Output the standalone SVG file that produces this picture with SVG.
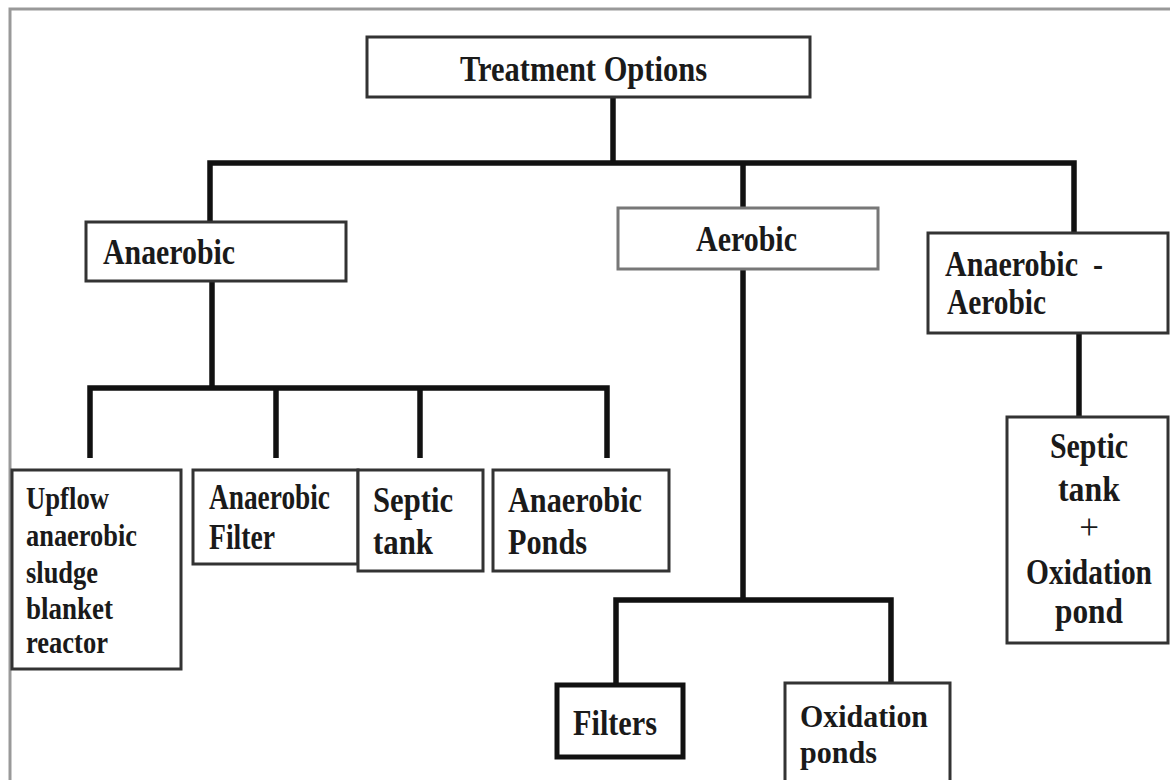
<svg xmlns="http://www.w3.org/2000/svg" width="1170" height="780" viewBox="0 0 1170 780">
<style>
.box{fill:#fff;stroke:#333;stroke-width:3}
.lt{stroke:#777}
.thick{stroke:#111;stroke-width:5}
.con{fill:none;stroke:#111;stroke-width:5.5;stroke-linejoin:miter;stroke-linecap:butt}
text{font-family:"Liberation Serif","Times New Roman",serif;font-weight:bold;fill:#1a1a1a}
.t1{font-size:35px}
.t2{font-size:31px}
.t3{font-size:32px}
</style>
<rect x="0" y="0" width="1170" height="780" fill="#fff"/>
<rect x="10" y="9" width="1178" height="800" fill="none" stroke="#999" stroke-width="3"/>
<g id="connectors">
<path class="con" d="M613 97 V163"/>
<path class="con" d="M210 222 V163 H1074 V233"/>
<path class="con" d="M743 163 V208"/>
<path class="con" d="M212 281 V388"/>
<path class="con" d="M90 458 V388 H607 V458"/>
<path class="con" d="M276 388 V458"/>
<path class="con" d="M420 388 V458"/>
<path class="con" d="M743 269 V600"/>
<path class="con" d="M616 685 V600 H891 V683"/>
<path class="con" d="M1079 333 V417"/>
</g>
<g id="treatment-options">
<rect class="box" x="367" y="37" width="443" height="60"/>
<text class="t1" x="460" y="81" textLength="247" lengthAdjust="spacingAndGlyphs">Treatment Options</text>
</g>
<g id="anaerobic">
<rect class="box" x="86" y="222" width="260" height="59"/>
<text class="t1" x="103" y="264" textLength="132" lengthAdjust="spacingAndGlyphs">Anaerobic</text>
</g>
<g id="aerobic">
<rect class="box lt" x="618" y="208" width="260" height="61"/>
<text class="t1" x="696" y="251" textLength="101" lengthAdjust="spacingAndGlyphs">Aerobic</text>
</g>
<g id="anaerobic-aerobic">
<rect class="box" x="928" y="233" width="240" height="100"/>
<text class="t1" x="945" y="276" xml:space="preserve" style="white-space:pre" textLength="158" lengthAdjust="spacingAndGlyphs">Anaerobic  -</text>
<text class="t1" x="947" y="314" textLength="99" lengthAdjust="spacingAndGlyphs">Aerobic</text>
</g>
<g id="uasb">
<rect class="box" x="12" y="470" width="169" height="199"/>
<text class="t2" x="26" y="509" textLength="83" lengthAdjust="spacingAndGlyphs">Upflow</text>
<text class="t2" x="26" y="546" textLength="111" lengthAdjust="spacingAndGlyphs">anaerobic</text>
<text class="t2" x="26" y="583" textLength="72" lengthAdjust="spacingAndGlyphs">sludge</text>
<text class="t2" x="26" y="619" textLength="87" lengthAdjust="spacingAndGlyphs">blanket</text>
<text class="t2" x="26" y="653" textLength="82" lengthAdjust="spacingAndGlyphs">reactor</text>
</g>
<g id="anaerobic-filter">
<rect class="box" x="193" y="470" width="165" height="94"/>
<text class="t1" x="209" y="509" textLength="121" lengthAdjust="spacingAndGlyphs">Anaerobic</text>
<text class="t1" x="209" y="549" textLength="66" lengthAdjust="spacingAndGlyphs">Filter</text>
</g>
<g id="septic-tank">
<rect class="box" x="358" y="470" width="125" height="101"/>
<text class="t1" x="373" y="512" textLength="80" lengthAdjust="spacingAndGlyphs">Septic</text>
<text class="t1" x="373" y="554" textLength="60" lengthAdjust="spacingAndGlyphs">tank</text>
</g>
<g id="anaerobic-ponds">
<rect class="box" x="493" y="470" width="176" height="101"/>
<text class="t1" x="508" y="512" textLength="134" lengthAdjust="spacingAndGlyphs">Anaerobic</text>
<text class="t1" x="508" y="554" textLength="79" lengthAdjust="spacingAndGlyphs">Ponds</text>
</g>
<g id="filters">
<rect class="box thick" x="557" y="685" width="126" height="72"/>
<text class="t1" x="573" y="735" textLength="84" lengthAdjust="spacingAndGlyphs">Filters</text>
</g>
<g id="oxidation-ponds">
<rect class="box" x="785" y="683" width="165" height="110"/>
<text class="t3" x="800" y="727" textLength="128" lengthAdjust="spacingAndGlyphs">Oxidation</text>
<text class="t3" x="800" y="763" textLength="77" lengthAdjust="spacingAndGlyphs">ponds</text>
</g>
<g id="septic-oxidation">
<rect class="box" x="1007" y="417" width="161" height="226"/>
<text class="t1" x="1089" y="458" text-anchor="middle" textLength="78" lengthAdjust="spacingAndGlyphs">Septic</text>
<text class="t1" x="1089" y="501" text-anchor="middle" textLength="62" lengthAdjust="spacingAndGlyphs">tank</text>
<text class="t1" x="1089" y="539" text-anchor="middle" style="font-weight:normal">+</text>
<text class="t1" x="1089" y="584" text-anchor="middle" textLength="126" lengthAdjust="spacingAndGlyphs">Oxidation</text>
<text class="t1" x="1089" y="623" text-anchor="middle" textLength="68" lengthAdjust="spacingAndGlyphs">pond</text>
</g>
</svg>
